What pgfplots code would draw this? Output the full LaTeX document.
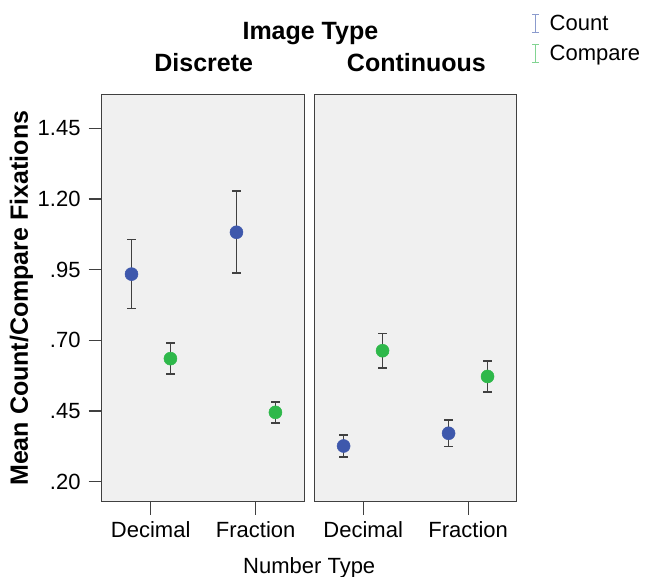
\documentclass[border=0pt]{standalone}
\usepackage{fontspec}
\setmainfont{Liberation Sans}
\usepackage{pgfplots}
\pgfplotsset{compat=1.18}
\definecolor{spssblue}{RGB}{62,88,172}
\definecolor{spssgreen}{RGB}{46,184,74}
\definecolor{panelbg}{RGB}{240,240,240}
\pgfplotsset{
  ibeam legend/.style={legend image code/.code={%
    \draw[##1] (4.5bp,-9bp)--(4.5bp,9bp) (1bp,-9bp)--(8bp,-9bp) (1bp,9bp)--(8bp,9bp);
    \path (0bp,0bp) (16bp,0bp);}},
  panel/.style={scale only axis, width=202.6bp, height=407.4bp,
    xmin=0.533, xmax=2.463, ymin=0.129, ymax=1.570,
    xtick={1,2}, xticklabels={Decimal,Fraction},
    tick align=outside, major tick length=13bp,
    xtick pos=bottom, ytick pos=left,
    axis background/.style={fill=panelbg},
    axis line style={draw=black!75, line width=1.3bp},
    major tick style={black!75, line width=1.3bp},
    tick label style={font=\fontsize{22bp}{26bp}\selectfont},
    xticklabel style={inner sep=2bp, yshift=-5bp},
    yticklabel style={inner sep=3bp, xshift=-5bp},
    clip=false},
  ser/.style={only marks, mark=*, mark size=6.5bp, color=#1, line width=1.6bp,
    mark options={fill=#1, draw=#1, line width=0.5bp},
    error bars/.cd, y dir=both, y explicit,
    error bar style={line width=1.6bp, draw=black!75},
    error mark options={rotate=90, mark size=4.2bp, line width=1.6bp, draw=black!75},
    /pgfplots/.cd},
}
\begin{document}
\begin{tikzpicture}[x=1bp,y=1bp]
\useasboundingbox (-101.7bp,-75.3bp) rectangle (544.3bp,501.7bp);
\begin{axis}[panel, at={(0bp,0bp)}, anchor=south west,
  ytick={0.2,0.45,0.7,0.95,1.2,1.45},
  yticklabels={.20,.45,.70,.95,1.20,1.45}]
\addplot[ser=spssblue] coordinates {(0.817,0.934) +- (0,0.122) (1.817,1.082) +- (0,0.145)};
\addplot[ser=spssgreen] coordinates {(1.188,0.635) +- (0,0.055) (2.188,0.445) +- (0,0.037)};
\end{axis}
\begin{axis}[panel, at={(212.45bp,0bp)}, anchor=south west, ytick=\empty,
  legend style={at={(axis description cs:1.067,1.1996)}, anchor=north west,
    draw=none, fill=none, font=\fontsize{22bp}{26bp}\selectfont,
    row sep=9bp, inner sep=0pt, cells={anchor=west}},
  legend cell align=left]
\addlegendimage{ibeam legend, spssblue!60!white, line width=1.2bp}
\addlegendentry{Count}
\addlegendimage{ibeam legend, spssgreen!60!white, line width=1.2bp}
\addlegendentry{Compare}
\addplot[forget plot, ser=spssblue] coordinates {(0.8135,0.326) +- (0,0.038) (1.8135,0.371) +- (0,0.047)};
\addplot[forget plot, ser=spssgreen] coordinates {(1.1845,0.663) +- (0,0.061) (2.1845,0.572) +- (0,0.055)};
\end{axis}
\node[font=\fontsize{25bp}{30bp}\selectfont\bfseries, anchor=base] at (208.7bp,461.8bp) {Image Type};
\node[font=\fontsize{25bp}{30bp}\selectfont\bfseries, anchor=base] at (102bp,430.4bp) {Discrete};
\node[font=\fontsize{25bp}{30bp}\selectfont\bfseries, anchor=base] at (314.7bp,430.4bp) {Continuous};
\node[font=\fontsize{22bp}{26bp}\selectfont, anchor=base] at (207.5bp,-71.3bp) {Number Type};
\node[font=\fontsize{25bp}{30bp}\selectfont\bfseries, anchor=base, rotate=90] at (-73.7bp,203.4bp) {Mean Count/Compare Fixations};
\end{tikzpicture}
\end{document}
